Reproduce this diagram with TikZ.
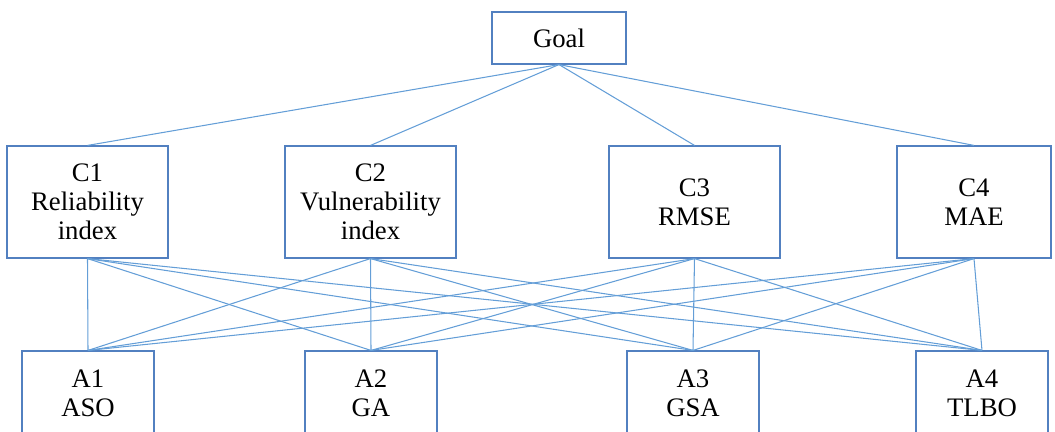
\documentclass[tikz,border=0pt]{standalone}
\usepackage{fontspec}
\setmainfont{Liberation Serif}
\definecolor{boxblue}{RGB}{82,128,192}
\definecolor{linkblue}{RGB}{100,158,215}

\begin{document}
\begin{tikzpicture}[x=0.025cm,y=-0.025cm,
		box/.style={draw=boxblue,line width=0.8pt,fill=white,align=center,inner sep=0pt,
			font=\fontsize{19}{20.7}\selectfont},
		link/.style={linkblue,line width=0.75pt}]
		\useasboundingbox (0,0) rectangle (1055,432);
		\clip (0,0) rectangle (1055,432);
		
		%goal
		\node[box,minimum width=3.35cm,minimum height=1.3cm] (goal) at (559,38) {Goal};
		
		%criteria
		\node[box,minimum width=4.025cm,minimum height=2.8cm] (c1) at (87.5,202) {C1\\Reliability\\index};
		\node[box,minimum width=4.275cm,minimum height=2.8cm] (c2) at (370.5,202) {C2\\Vulnerability\\index};
		\node[box,minimum width=4.275cm,minimum height=2.8cm] (c3) at (694.5,202) {C3\\RMSE};
		\node[box,minimum width=3.85cm,minimum height=2.8cm] (c4) at (974,202) {C4\\MAE};
		
		%alternatives
		\node[box,minimum width=3.3cm,minimum height=2.1cm] (a1) at (88,393) {A1\\ASO};
		\node[box,minimum width=3.3cm,minimum height=2.1cm] (a2) at (371,393) {A2\\GA};
		\node[box,minimum width=3.3cm,minimum height=2.1cm] (a3) at (693,393) {A3\\GSA};
		\node[box,minimum width=3.3cm,minimum height=2.1cm] (a4) at (982,393) {A4\\TLBO};
		
		%links
		\foreach \c in {c1,c2,c3,c4}
			\draw[link] (goal.south) -- (\c.north);
		\foreach \c in {c1,c2,c3,c4}
			\foreach \a in {a1,a2,a3,a4}
				\draw[link] (\c.south) -- (\a.north);
		\end{tikzpicture}
\end{document}
